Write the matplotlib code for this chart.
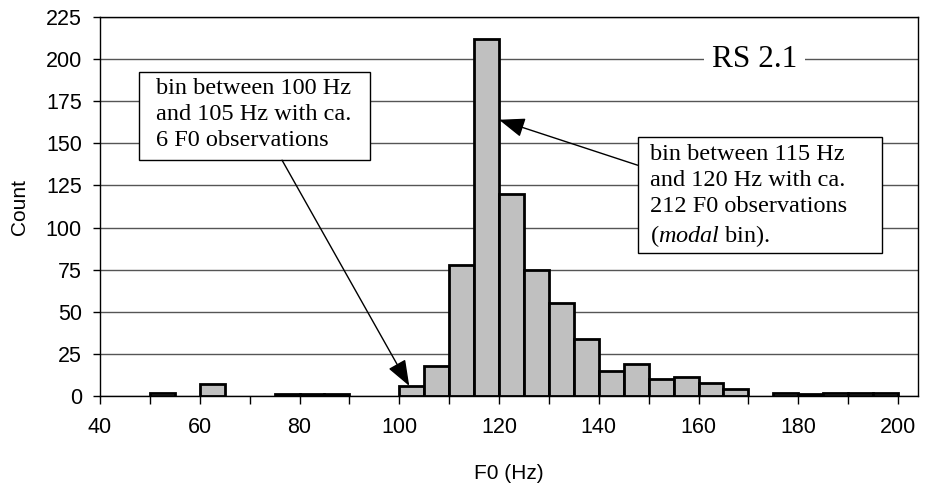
import numpy as np
import matplotlib.pyplot as plt
from matplotlib.patches import Rectangle

plt.rcParams['font.family'] = 'Liberation Sans'
plt.rcParams['mathtext.fontset'] = 'custom'
plt.rcParams['mathtext.rm'] = 'Liberation Serif'
plt.rcParams['mathtext.it'] = 'Liberation Serif:italic'

# F0 histogram, 5 Hz bins from 40 to 200 Hz
bin_edges = np.arange(40, 205, 5)
counts = np.array([0, 0, 2, 0, 7, 0, 0, 1, 1, 1, 0, 0,
                   6, 18, 78, 212, 120, 75, 55, 34, 15, 19, 10, 11,
                   8, 4, 0, 2, 1, 2, 2, 2])

xticks = np.arange(40, 201, 10)
xticklabels = [str(t) if t % 20 == 0 else '' for t in xticks]
yticks = np.arange(0, 226, 25)

serif = 'Liberation Serif'

fig = plt.figure(figsize=(9.27, 4.86), dpi=100)
ax = fig.add_axes([100/927, 90/486, 818/927, 379/486])

left = bin_edges[:-1]
nz = counts > 0
ax.bar(left[nz], counts[nz], width=5, align='edge', color='#c0c0c0',
       edgecolor='black', linewidth=2, zorder=2)

ax.set_xlim(40, 204)
ax.set_ylim(0, 225)
ax.set_xticks(xticks)
ax.set_xticklabels(xticklabels)
ax.set_yticks(yticks)
ax.tick_params(axis='x', direction='out', length=6, width=1, pad=9, labelsize=15.5)
ax.tick_params(axis='y', direction='out', length=5, width=1, pad=8, labelsize=15.5)
ax.yaxis.grid(True, color='#555555', linewidth=1)
ax.set_axisbelow(True)
for s in ax.spines.values():
    s.set_linewidth(1)

ax.set_xlabel('F0 (Hz)', fontsize=15, labelpad=19)
ax.set_ylabel('Count', fontsize=15, labelpad=12)

# series label sitting on the 200 gridline
ax.text(171.2, 200, 'RS 2.1', fontsize=22.5, family=serif, ha='center', va='center',
        zorder=3, bbox=dict(boxstyle='square,pad=0.25', fc='white', ec='none'))

# callout boxes
ax.add_patch(Rectangle((0.0477, 0.623), 0.282, 0.232, transform=ax.transAxes,
                       fc='white', ec='black', lw=1, zorder=4))
ax.text(0.068, 0.840, 'bin between 100 Hz\nand 105 Hz with ca.\n6 F0 observations',
        transform=ax.transAxes, fontsize=17.5, family=serif, ha='left', va='top',
        linespacing=1.33, zorder=5)

ax.add_patch(Rectangle((0.658, 0.377), 0.298, 0.306, transform=ax.transAxes,
                       fc='white', ec='black', lw=1, zorder=4))
ax.text(0.672, 0.666, 'bin between 115 Hz\nand 120 Hz with ca.\n212 F0 observations\n($\\mathit{modal}$ bin).',
        transform=ax.transAxes, fontsize=17.5, family=serif, ha='left', va='top',
        linespacing=1.33, zorder=5)

arrow = dict(arrowstyle='-|>,head_length=0.8,head_width=0.3', color='black',
             lw=1, mutation_scale=20, shrinkA=0, shrinkB=0)
ax.annotate('', xy=(102, counts[12]), xytext=(76.5, 140), arrowprops=arrow, zorder=6)
ax.annotate('', xy=(120, 164), xytext=(147.8, 137), arrowprops=arrow, zorder=6)

fig.savefig('out.png', dpi=100)
